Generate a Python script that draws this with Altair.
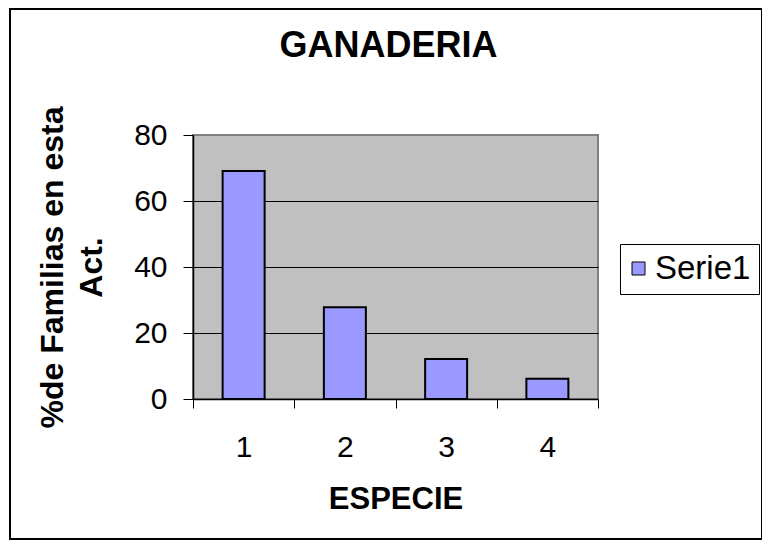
import altair as alt
import pandas as pd

categories = [1, 2, 3, 4]
values = [69.1, 27.8, 12.1, 6.1]
series = ["Serie1"] * 4
x_ticks = [0.5, 1, 1.5, 2, 2.5, 3, 3.5, 4, 4.5]
y_ticks = [0, 20, 40, 60, 80]

df = pd.DataFrame({"especie": categories, "valor": values, "serie": series})

W, H = 405, 264
FONT = "Liberation Sans"

bars = alt.Chart(df).mark_bar(size=42, stroke="black", strokeWidth=2).encode(
    x=alt.X(
        "especie:Q",
        scale=alt.Scale(domain=[0.5, 4.5], nice=False, zero=False, padding=0),
        axis=alt.Axis(
            values=x_ticks,
            title="ESPECIE",
            titleFontSize=31,
            titleFontWeight="bold",
            titlePadding=22,
            labelFontSize=30,
            labelFontWeight="normal",
            labelPadding=24,
            labelExpr="datum.value % 1 == 0 ? format(datum.value, 'd') : ''",
            labelOverlap=False,
            labelFlush=False,
            tickSize=9,
            tickColor="black",
            tickOpacity={"condition": {"test": "datum.value % 1 == 0", "value": 0}, "value": 1},
            domainColor="black",
            domainWidth=1.5,
            grid=False,
        ),
    ),
    y=alt.Y(
        "valor:Q",
        scale=alt.Scale(domain=[0, 80], nice=False),
        axis=alt.Axis(
            values=y_ticks,
            title=["%de Familias en esta", "Act."],
            titleFontSize=32,
            titleFontWeight="bold",
            titleLineHeight=39,
            titlePadding=25,
            labelFontSize=30,
            labelPadding=16,
            tickSize=10,
            tickColor="black",
            domainColor="black",
            domainWidth=1.5,
            grid=True,
            gridColor="black",
            gridWidth=1,
            gridOpacity={"condition": {"test": "datum.value == 80 || datum.value == 0", "value": 0}, "value": 1},
        ),
    ),
    color=alt.Color(
        "serie:N",
        scale=alt.Scale(range=["#9999FF"]),
        legend=alt.Legend(
            title=None,
            orient="none",
            legendX=427,
            legendY=109,
            labelFontSize=33,
            labelOffset=0,
            symbolOffset=-6,
            symbolType="square",
            symbolSize=169,
            symbolStrokeColor="black",
            symbolStrokeWidth=1,
            strokeColor="black",
            fillColor="white",
            padding=8,
        ),
    ),
)

frame = alt.Chart(pd.DataFrame({"k": [0]})).mark_rect(
    fill="transparent", stroke="black", strokeWidth=2
).encode(
    x=alt.value(-183),
    x2=alt.value(569),
    y=alt.value(-126),
    y2=alt.value(404),
)

chart = alt.layer(frame, bars).properties(
    width=W,
    height=H,
    title=alt.TitleParams("GANADERIA", fontSize=36, fontWeight="bold", offset=-57, dx=-7, anchor="middle"),
    autosize=alt.AutoSizeParams(type="none"),
    padding={"left": 185, "top": 127, "right": 164, "bottom": 141},
    background="white",
).configure(font=FONT).configure_view(
    fill="#C0C0C0", stroke="#808080", strokeWidth=2
)

chart.save("out.html", embed_options={"renderer": "svg", "actions": False})
